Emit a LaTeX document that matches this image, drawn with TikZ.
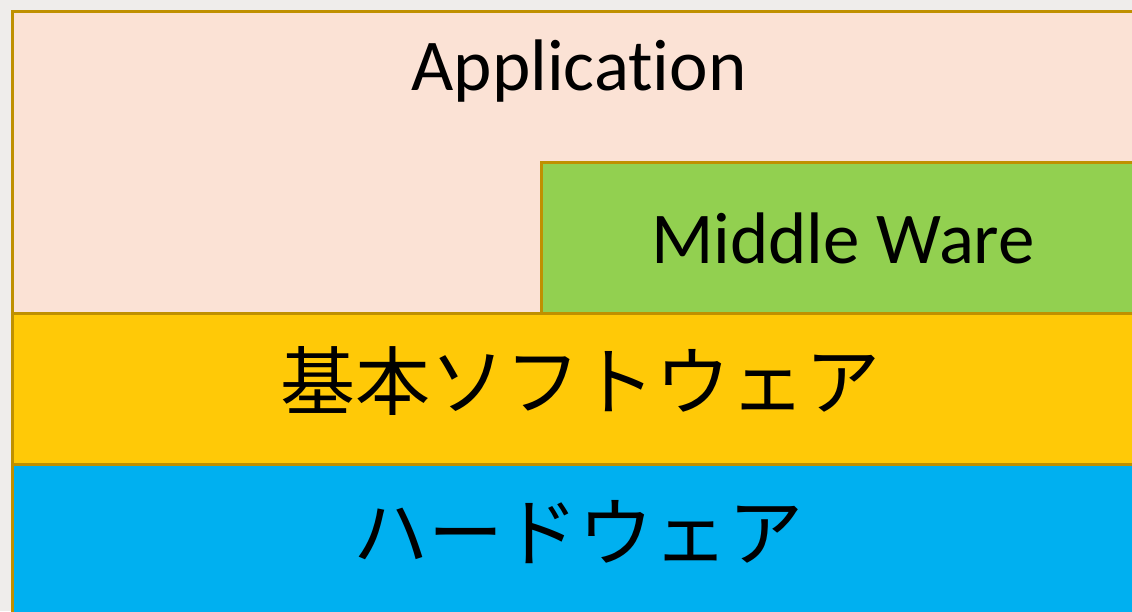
\documentclass[tikz,border=0pt]{standalone}
\usepackage{fontspec}
\setmainfont{Carlito}[Ligatures={NoCommon}]
\newfontfamily\jpfont{Noto Sans CJK JP}
\definecolor{bgc}{HTML}{EFEDEB}
\definecolor{appc}{HTML}{FBE2D5}
\definecolor{midc}{HTML}{92D050}
\definecolor{basec}{HTML}{FFC907}
\definecolor{hwc}{HTML}{00B0F0}
\definecolor{edgec}{HTML}{BF9000}
\begin{document}
\begin{tikzpicture}[x=1pt,y=-1pt,
  layer/.style={draw=edgec,line width=3pt},
  lbl/.style={inner sep=0pt,anchor=base,text=black},
  latin/.style={lbl,font=\fontsize{73}{80}\selectfont},
  jp/.style={lbl,font=\jpfont\fontsize{75}{80}\selectfont}]
\useasboundingbox (0,0) rectangle (1132,611);
\fill[bgc] (0,0) rectangle (1132,611);
\begin{scope}
\clip (0,0) rectangle (1132,611);
\draw[layer,fill=appc] (12.5,11.5) rectangle (1145,313.5);
\draw[layer,fill=midc] (541.5,162.5) rectangle (1145,313.5);
\draw[layer,fill=basec] (12.5,313.5) rectangle (1145,464);
\draw[layer,fill=hwc] (12.5,464) rectangle (1145,630);
\end{scope}
\node[latin] (app) at (579,90) {Application};
\node[latin] (mid) at (843,263) {Middle Ware};
\node[jp,anchor=center] (base) at (580,381) {基本ソフトウェア};
\node[jp,anchor=center] (hw) at (578,532) {ハードウェア};
\end{tikzpicture}
\end{document}
